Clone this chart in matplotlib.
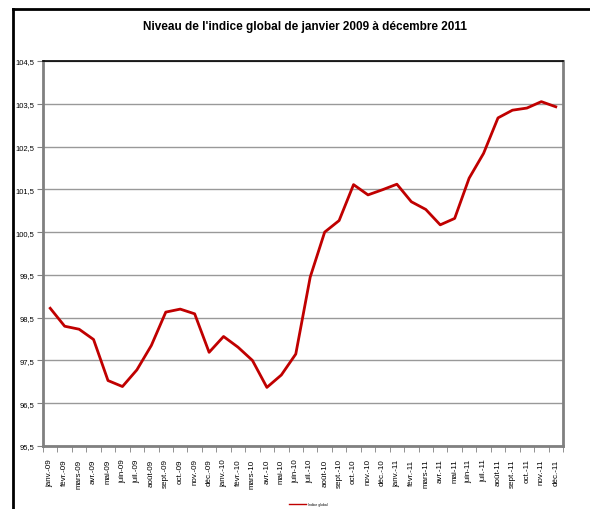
import numpy as np
import matplotlib.pyplot as plt
from matplotlib.lines import Line2D

plt.rcParams['font.family'] = ['Liberation Sans', 'DejaVu Sans']

# Données
mois = ["janv.-09", "févr.-09", "mars-09", "avr.-09", "mai-09", "juin-09",
        "juil.-09", "août-09", "sept.-09", "oct.-09", "nov.-09", "déc.-09",
        "janv.-10", "févr.-10", "mars-10", "avr.-10", "mai-10", "juin-10",
        "juil.-10", "août-10", "sept.-10", "oct.-10", "nov.-10", "déc.-10",
        "janv.-11", "févr.-11", "mars-11", "avr.-11", "mai-11", "juin-11",
        "juil.-11", "août-11", "sept.-11", "oct.-11", "nov.-11", "déc.-11"]
indice = [98.72, 98.30, 98.23, 97.99, 97.03, 96.89,
          97.28, 97.85, 98.63, 98.70, 98.59, 97.69,
          98.06, 97.81, 97.50, 96.87, 97.16, 97.65,
          99.45, 100.50, 100.77, 101.61, 101.37, 101.49,
          101.62, 101.21, 101.03, 100.67, 100.82, 101.76,
          102.34, 103.17, 103.35, 103.40, 103.55, 103.43]
yticks = [95.5, 96.5, 97.5, 98.5, 99.5, 100.5, 101.5, 102.5, 103.5, 104.5]

W, H = 590, 510
fig = plt.figure(figsize=(W / 100, H / 100), dpi=100)

# cadre extérieur (style Excel)
fig.add_artist(Line2D([13 / W, 13 / W], [0, 1 - 10 / H], transform=fig.transFigure,
                      color="black", lw=2))
fig.add_artist(Line2D([13 / W, 1], [1 - 10 / H, 1 - 10 / H], transform=fig.transFigure,
                      color="black", lw=2))

x0, x1, y0, y1 = 43, 563, 62, 447
ax = fig.add_axes([x0 / W, 1 - y1 / H, (x1 - x0) / W, (y1 - y0) / H])

x = np.arange(len(mois))
ax.plot(x, indice, color="#c00000", lw=2, label="Indice global")

ax.set_xlim(-0.5, len(mois) - 0.5)
ax.set_ylim(95.5, 104.5)
ax.set_yticks(yticks)
ax.set_yticklabels([f"{v:.1f}".replace(".", ",") for v in yticks], fontsize=5.5)
ax.yaxis.grid(True, color="#999999", lw=1)
ax.set_axisbelow(True)

ax.set_xticks(x)
ax.set_xticklabels(mois, rotation=90, fontsize=5.8)
ax.set_xticks(np.arange(-0.5, len(mois), 1), minor=True)
ax.tick_params(axis="x", which="major", length=0, pad=9)
ax.tick_params(axis="x", which="minor", length=4, color="#808080")
ax.tick_params(axis="y", length=4, color="#808080", pad=2)

ax.spines["top"].set_color("black")
ax.spines["top"].set_linewidth(1.2)
for s in ["left", "bottom", "right"]:
    ax.spines[s].set_color("#808080")
    ax.spines[s].set_linewidth(2)

fig.text(305 / W, 1 - 27 / H, "Niveau de l'indice global de janvier 2009 à décembre 2011",
         ha="center", va="center", fontsize=8.5, fontweight="bold")

fig.legend(loc="center", bbox_to_anchor=(308 / W, 1 - 505 / H), frameon=False,
           fontsize=2.5, handlelength=5, handletextpad=0.4)
for ln in fig.legends[0].get_lines():
    ln.set_linewidth(1)

fig.savefig("out.png", dpi=100)
